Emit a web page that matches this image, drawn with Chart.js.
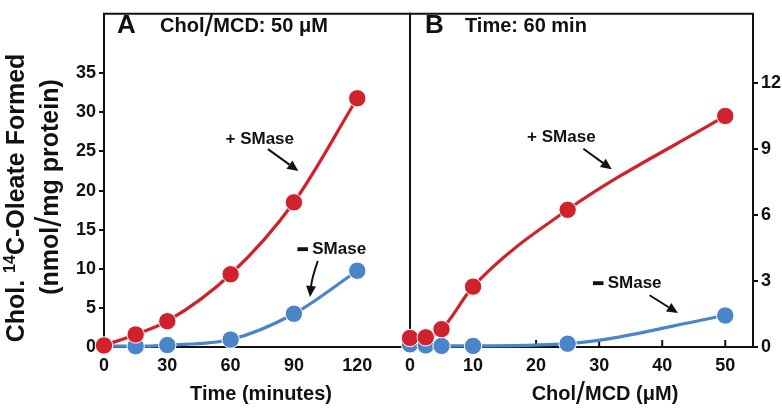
<!DOCTYPE html>
<html><head><meta charset="utf-8">
<script src="https://cdn.jsdelivr.net/npm/chart.js@4.4.1/dist/chart.umd.min.js"></script>
<style>
html,body{margin:0;padding:0;background:#fff;}
#wrap{position:relative;width:782px;height:409px;background:#fff;overflow:hidden;}
canvas{position:absolute;left:0;top:0;}
</style></head>
<body><div id="wrap"><canvas id="ca" width="782" height="409"></canvas><canvas id="cb" width="782" height="409"></canvas></div>
<script>
// ---- data ----
const timeMin = [0, 15, 30, 60, 90, 120];
const aPlusSMase = [0.2, 1.6, 3.3, 9.3, 18.5, 31.8];
const aMinusSMase = [0.1, 0.1, 0.25, 0.95, 4.25, 9.75];
const cholMCD = [0, 2.5, 5, 10, 25, 50];
const bPlusSMase = [0.41, 0.44, 0.81, 2.74, 6.23, 10.49];
const bMinusSMase = [0.12, 0.07, 0.05, 0.05, 0.15, 1.43];
const aXTicks = [0, 30, 60, 90, 120];
const aYTicks = [0, 5, 10, 15, 20, 25, 30, 35];
const bXTicks = [0, 10, 20, 30, 40, 50];
const bYTicks = [0, 3, 6, 9, 12];

const RED = '#d0222c', BLUE = '#4a84c9', INK = '#111';
const FF = '"Liberation Sans", Arial, Helvetica, sans-serif';
const tickFont = {family: FF, size: 18, weight: 'bold'};

function pts(xs, ys){ return xs.map((x,i)=>({x:x, y:ys[i]})); }
function ds(xs, ys, color){
  return {data: pts(xs, ys), borderColor: color, backgroundColor: color,
    pointBackgroundColor: color, pointBorderColor: '#fff', pointBorderWidth: 1,
    pointRadius: 8.7, pointHoverRadius: 8.7, borderWidth: 3.2,
    cubicInterpolationMode: 'monotone', clip: false};
}

// draw sequence of text parts
function rich(ctx, parts, x, y, align){
  let w = 0;
  parts.forEach(p=>{ ctx.font = p.font; p.w = ctx.measureText(p.t).width + (p.gap||0)*2; w += p.w; });
  let cx = align === 'center' ? x - w/2 : x;
  ctx.textBaseline = 'alphabetic'; ctx.textAlign = 'left';
  parts.forEach(p=>{
    ctx.font = p.font;
    ctx.fillText(p.t, cx + (p.gap||0), y + (p.dy||0));
    if (p.heavy){ ctx.save(); ctx.strokeStyle = ctx.fillStyle; ctx.lineWidth = p.heavy; ctx.strokeText(p.t, cx + (p.gap||0), y + (p.dy||0)); ctx.restore(); }
    cx += p.w;
  });
}
const B = s => 'bold ' + s + 'px ' + FF;
const R = s => s + 'px ' + FF;

function arrow(ctx, x1, y1, x2, y2, cx, cy){
  ctx.save(); ctx.strokeStyle = INK; ctx.fillStyle = INK; ctx.lineWidth = 2;
  const ang = (cx!==undefined) ? Math.atan2(y2-cy, x2-cx) : Math.atan2(y2-y1, x2-x1);
  const hl = 11, hw = 5;
  const bx = x2 - hl*Math.cos(ang), by = y2 - hl*Math.sin(ang);
  ctx.beginPath(); ctx.moveTo(x1, y1);
  if (cx!==undefined) ctx.quadraticCurveTo(cx, cy, bx, by); else ctx.lineTo(bx, by);
  ctx.stroke();
  ctx.beginPath(); ctx.moveTo(x2, y2);
  ctx.lineTo(bx + hw*Math.sin(ang), by - hw*Math.cos(ang));
  ctx.lineTo(bx - hw*Math.sin(ang), by + hw*Math.cos(ang));
  ctx.closePath(); ctx.fill(); ctx.restore();
}

const framePlugin = {
  id: 'frame',
  beforeDatasetsDraw(chart, args, opts){
    const {ctx, chartArea: a} = chart;
    ctx.save(); ctx.strokeStyle = INK; ctx.lineWidth = 2;
    ctx.beginPath(); ctx.moveTo(a.left, a.bottom); ctx.lineTo(a.left, a.top); ctx.lineTo(a.right, a.top); ctx.lineTo(a.right, a.bottom); ctx.stroke();
    if (opts.innerX){
      const xs = chart.scales.x;
      opts.innerX.forEach(v=>{ const px = xs.getPixelForValue(v); ctx.beginPath(); ctx.moveTo(px, a.bottom); ctx.lineTo(px, a.bottom-7); ctx.stroke(); });
    }
    ctx.restore();
  },
  afterDraw(chart, args, opts){
    const {ctx, chartArea: a} = chart;
    const xs = chart.scales.x, ys = chart.scales.y;
    const X = v => xs.getPixelForValue(v), Y = v => ys.getPixelForValue(v);
    ctx.save(); ctx.fillStyle = INK;
    (opts.notes||[]).forEach(n=>{
      const signPart = n.sign === '+' ? {t: '+', font: B(17)} : {t: '\u2013', font: B(17), heavy: 2.2};
      rich(ctx, [signPart, {t: ' SMase', font: B(17)}], X(n.tx), Y(n.ty) + 6, 'center');
      if (n.c) arrow(ctx, X(n.a[0]), Y(n.a[1]), X(n.a[2]), Y(n.a[3]), X(n.c[0]), Y(n.c[1]));
      else arrow(ctx, X(n.a[0]), Y(n.a[1]), X(n.a[2]), Y(n.a[3]));
    });
    if (opts.draw) opts.draw(ctx, a);
    ctx.restore();
  }
};

function scalesFor(xMin, xMax, xTicks, yMax, yTicks, yPos, yWidth){
  return {
    x: {type: 'linear', min: xMin, max: xMax,
      afterFit(s){ s.height = 62; },
      afterBuildTicks(s){ s.ticks = xTicks.map(v=>({value: v})); },
      ticks: {font: tickFont, color: INK, padding: 8, maxRotation: 0, autoSkip: false},
      grid: {display: false, drawOnChartArea: false, drawTicks: false},
      border: {display: true, color: INK, width: 2}},
    y: {type: 'linear', min: 0, max: yMax, position: yPos,
      afterFit(s){ s.width = yWidth; },
      afterBuildTicks(s){ s.ticks = yTicks.map(v=>({value: v})); },
      ticks: {font: tickFont, color: INK, padding: 3, autoSkip: false},
      grid: {display: true, drawOnChartArea: false, drawTicks: true, tickLength: 5, color: INK, lineWidth: 2},
      border: {display: true, color: INK, width: 2}}
  };
}

const common = {responsive: false, animation: false, events: []};

new Chart(document.getElementById('ca'), {
  type: 'line',
  data: {datasets: [ds(timeMin, aPlusSMase, RED), ds(timeMin, aMinusSMase, BLUE)]},
  options: Object.assign({}, common, {
    layout: {padding: {left: 0, top: 3, right: 372, bottom: 0}},
    scales: scalesFor(0, 145, aXTicks, 42.6, aYTicks, 'left', 104),
    plugins: {legend: {display: false}, tooltip: {enabled: false},
      frame: {
        notes: [
          {sign: '+', tx: 73.8, ty: 26.7, a: [77.7, 25.3, 92.1, 22.5]},
          {sign: '-', tx: 108.1, ty: 12.6, a: [101.3, 11.0, 97.6, 6.4], c: [98.5, 8.8]}
        ],
        draw(ctx, a){
          ctx.fillStyle = INK;
          rich(ctx, [{t: 'A', font: B(26)}], a.left + 13, 33, 'left');
          rich(ctx, [{t: 'Chol', font: B(20)}, {t: '/', font: R(32), dy: 4}, {t: 'MCD: 50 \u03bcM', font: B(20)}], a.left + 56, 32, 'left');
          rich(ctx, [{t: 'Time (minutes)', font: B(20)}], 261, 400, 'center');
          // y axis title (rotated)
          ctx.save(); ctx.translate(24, 198); ctx.rotate(-Math.PI/2);
          rich(ctx, [{t: 'Chol. ', font: B(25)}, {t: '14', font: B(16), dy: -9}, {t: 'C-Oleate Formed', font: B(25)}], 0, 0, 'center');
          ctx.restore();
          ctx.save(); ctx.translate(58, 187); ctx.rotate(-Math.PI/2);
          rich(ctx, [{t: '(nmol', font: B(25)}, {t: '/', font: R(36), dy: 3}, {t: 'mg protein)', font: B(25)}], 0, 0, 'center');
          ctx.restore();
        }
      }}
  }),
  plugins: [framePlugin]
});

new Chart(document.getElementById('cb'), {
  type: 'line',
  data: {datasets: [ds(cholMCD, bPlusSMase, RED), ds(cholMCD, bMinusSMase, BLUE)]},
  options: Object.assign({}, common, {
    layout: {padding: {left: 410, top: 3, right: 0, bottom: 0}},
    scales: scalesFor(0, 54.4, bXTicks, 15.13, bYTicks, 'right', 29),
    plugins: {legend: {display: false}, tooltip: {enabled: false},
      frame: {
        innerX: [10, 20, 30, 40, 50],
        notes: [
          {sign: '+', tx: 24.0, ty: 9.6, a: [27.5, 9.0, 32.0, 8.07]},
          {sign: '-', tx: 34.5, ty: 2.93, a: [38.0, 2.35, 42.5, 1.54]}
        ],
        draw(ctx, a){
          ctx.fillStyle = INK;
          rich(ctx, [{t: 'B', font: B(26)}], a.left + 15, 33, 'left');
          rich(ctx, [{t: 'Time: 60 min', font: B(20)}], a.left + 55, 32, 'left');
          rich(ctx, [{t: 'Chol', font: B(20)}, {t: '/', font: R(32), dy: 4}, {t: 'MCD (\u03bcM)', font: B(20)}], 605, 400, 'center');
        }
      }}
  }),
  plugins: [framePlugin]
});
</script>
</body></html>
